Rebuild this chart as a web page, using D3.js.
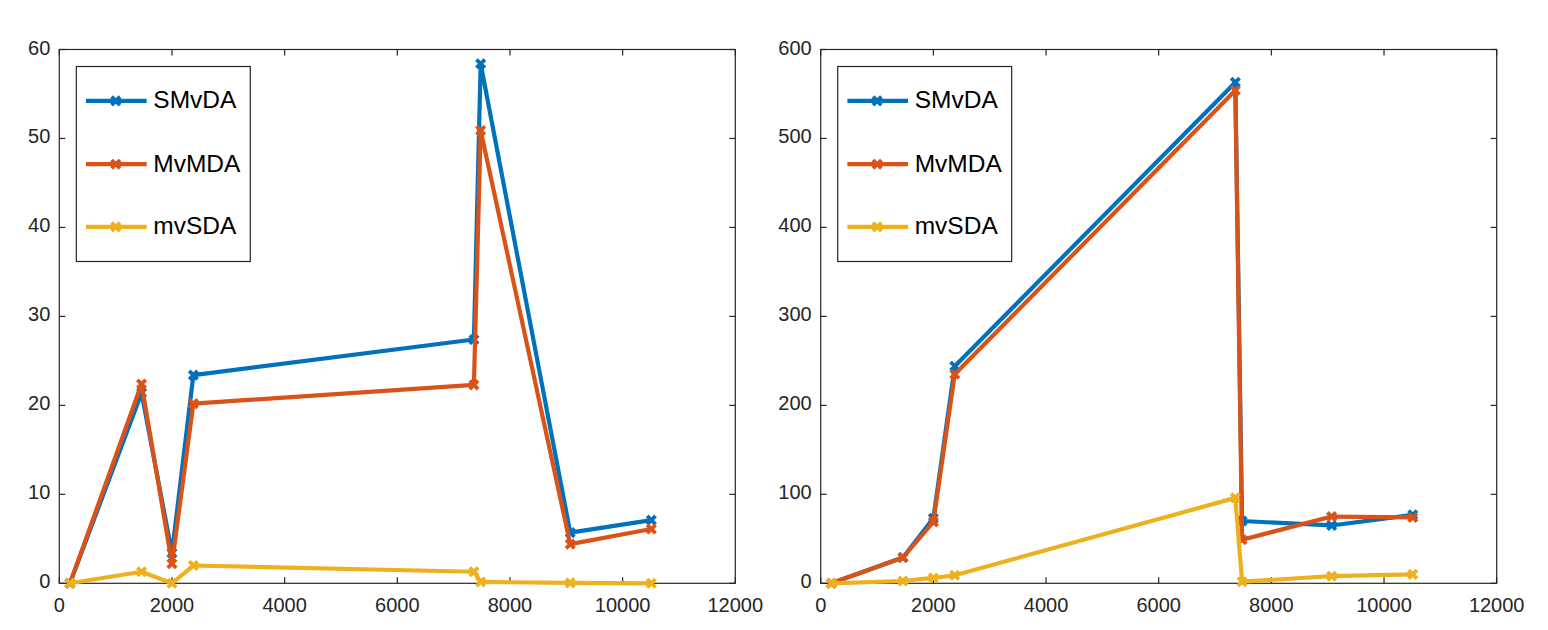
<!DOCTYPE html>
<html>
<head>
<meta charset="utf-8">
<script src="https://cdn.jsdelivr.net/npm/d3@7"></script>
<style>
  html, body { margin: 0; padding: 0; background: #fff; }
  svg { display: block; }
  text { font-family: "Liberation Sans", Arial, Helvetica, sans-serif; fill: #262626; }
</style>
</head>
<body>
<svg id="chart" width="1548" height="630"></svg>
<script>
// ---- data ----
const xValues = [190, 1460, 2000, 2380, 7360, 7480, 9070, 10510];
const seriesNames = ["SMvDA", "MvMDA", "mvSDA"];

const leftSMvDA = [0, 21.4, 3.4, 23.4, 27.4, 58.4, 5.7, 7.1];
const leftMvMDA = [0, 22.4, 2.2, 20.2, 22.3, 50.9, 4.4, 6.1];
const leftMvSDA = [0, 1.3, 0, 2.0, 1.3, 0.15, 0.05, 0];

const rightSMvDA = [0, 29, 73, 244, 563, 70, 65, 77];
const rightMvMDA = [0, 29, 69, 235, 554, 49, 75, 74];
const rightMvSDA = [0, 2.6, 6, 9, 96, 1.8, 8, 10];

const xTicks = [0, 2000, 4000, 6000, 8000, 10000, 12000];
const leftYTicks = [0, 10, 20, 30, 40, 50, 60];
const rightYTicks = [0, 100, 200, 300, 400, 500, 600];

const colors = ["#0072BD", "#D95319", "#EDB120"];

// ---- drawing ----
const svg = d3.select("#chart");
const axisColor = "#262626";

function drawPanel(left, right, top, bottom, yMax, yTicks, series) {
  const x = d3.scaleLinear().domain([0, 12000]).range([left, right]);
  const y = d3.scaleLinear().domain([0, yMax]).range([bottom, top]);
  const g = svg.append("g");
  const tickLen = 6;

  // box
  g.append("rect").attr("x", left).attr("y", top)
    .attr("width", right - left).attr("height", bottom - top)
    .attr("fill", "none").attr("stroke", axisColor).attr("stroke-width", 1.2);

  // x ticks (bottom + top, inward)
  xTicks.forEach(t => {
    const px = x(t);
    g.append("line").attr("x1", px).attr("x2", px).attr("y1", bottom).attr("y2", bottom - tickLen)
      .attr("stroke", axisColor).attr("stroke-width", 1.2);
    g.append("line").attr("x1", px).attr("x2", px).attr("y1", top).attr("y2", top + tickLen)
      .attr("stroke", axisColor).attr("stroke-width", 1.2);
    g.append("text").attr("x", px).attr("y", bottom + 28.2)
      .attr("text-anchor", "middle").attr("font-size", 20).text(d3.format("d")(t));
  });
  // y ticks (left + right, inward)
  yTicks.forEach(t => {
    const py = y(t);
    g.append("line").attr("x1", left).attr("x2", left + tickLen).attr("y1", py).attr("y2", py)
      .attr("stroke", axisColor).attr("stroke-width", 1.2);
    g.append("line").attr("x1", right).attr("x2", right - tickLen).attr("y1", py).attr("y2", py)
      .attr("stroke", axisColor).attr("stroke-width", 1.2);
    g.append("text").attr("x", left - 9).attr("y", py + 5)
      .attr("text-anchor", "end").attr("font-size", 20).text(d3.format("d")(t));
  });

  const line = d3.line().x((d, i) => x(xValues[i])).y(d => y(d));
  const ms = 4.2;
  function xMarker(sel, cx, cy, color) {
    sel.append("path")
      .attr("d", `M${cx - ms},${cy - ms}L${cx + ms},${cy + ms}M${cx - ms},${cy + ms}L${cx + ms},${cy - ms}`)
      .attr("stroke", color).attr("stroke-width", 3.8).attr("fill", "none");
  }

  series.forEach((vals, si) => {
    const sg = g.append("g");
    sg.append("path").datum(vals).attr("d", line)
      .attr("fill", "none").attr("stroke", colors[si]).attr("stroke-width", 4.2)
      .attr("stroke-linejoin", "round");
    vals.forEach((v, i) => xMarker(sg, x(xValues[i]), y(v), colors[si]));
  });

  // legend
  const lx = left + 17, ly = top + 17;
  const lg = g.append("g");
  lg.append("rect").attr("x", lx).attr("y", ly).attr("width", 174).attr("height", 195)
    .attr("fill", "#fff").attr("stroke", axisColor).attr("stroke-width", 1.2);
  const rows = [34.4, 97.7, 160.4];
  seriesNames.forEach((name, si) => {
    const ry = ly + rows[si];
    lg.append("line").attr("x1", lx + 9.7).attr("x2", lx + 70.4).attr("y1", ry).attr("y2", ry)
      .attr("stroke", colors[si]).attr("stroke-width", 4.2);
    xMarker(lg, lx + 39.5, ry, colors[si]);
    lg.append("text").attr("x", lx + 77).attr("y", ry + 7.5)
      .attr("font-size", 24.5).style("fill", "#000").text(name);
  });
}

drawPanel(59.3, 735.3, 49.5, 583.3, 60, leftYTicks, [leftSMvDA, leftMvMDA, leftMvSDA]);
drawPanel(820.7, 1496.7, 49.5, 583.3, 600, rightYTicks, [rightSMvDA, rightMvMDA, rightMvSDA]);
</script>
</body>
</html>
